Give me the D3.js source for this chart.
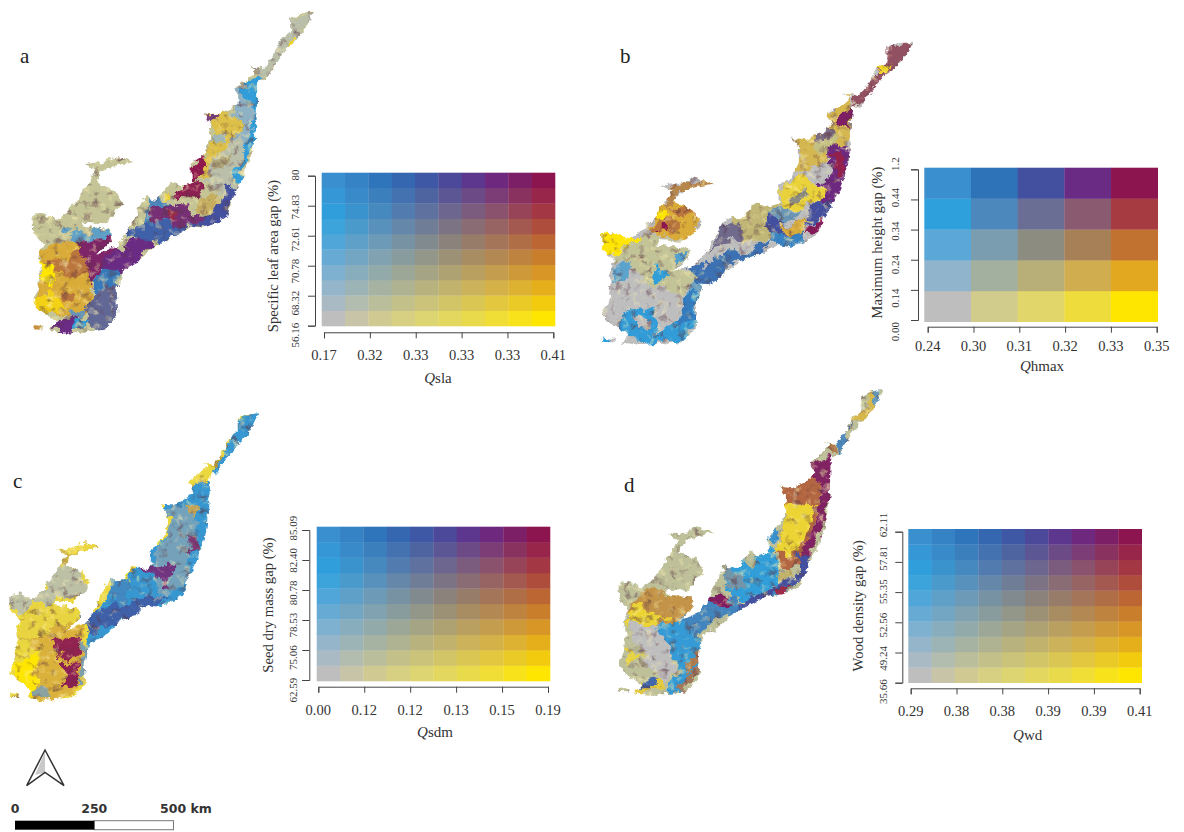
<!DOCTYPE html>
<html><head><meta charset="utf-8">
<script src="https://cdn.jsdelivr.net/npm/d3@7/dist/d3.min.js"></script>
<style>html,body{margin:0;padding:0;background:#fff}svg{display:block}text{font-family:"Liberation Serif",serif;fill:#333}</style>
</head><body><svg id="c" width="1184" height="832"></svg>
<script>
// bivariate palette, rows from gap class 0 (bottom) to 4 (top), columns = Q class
const palette = [
 ["#BEBEBE","#D2CC8C","#E0D66A","#EEDC3C","#FFE600"],
 ["#8FB4CC","#A3B0A0","#B8AE78","#D0AE50","#E2A820"],
 ["#5BA8D8","#7A9DB0","#8C8C80","#A88058","#C27230"],
 ["#2EA0DC","#4C88BC","#6A6E94","#8A5A70","#A63B42"],
 ["#3A8FCF","#2E72B8","#4350A0","#6A2B84","#8C1550"]];

// legend tick labels
const qLabelsA=["0.17","0.32","0.33","0.33","0.33","0.41"], gapLabelsA=["56.16","68.32","70.78","72.61","74.83","80"];
const qLabelsB=["0.24","0.30","0.31","0.32","0.33","0.35"], gapLabelsB=["0.00","0.14","0.24","0.34","0.44","1.2"];
const qLabelsC=["0.00","0.12","0.12","0.13","0.15","0.19"], gapLabelsC=["62.59","75.06","78.53","80.78","82.40","85.09"];
const qLabelsD=["0.29","0.38","0.38","0.39","0.39","0.41"], gapLabelsD=["35.66","49.24","52.56","55.35","57.81","62.11"];

// range outline (map units)
const rangeOutline=[940,35,925,70,905,100,885,125,865,140,845,165,825,195,800,240,775,240,772,270,770,350,765,420,750,480,730,530,700,590,680,650,650,670,600,685,570,680,520,710,460,740,410,790,370,810,350,870,355,940,310,990,250,995,200,998,150,990,170,965,120,930,97,905,115,860,120,800,115,770,130,730,100,700,97,645,130,640,170,660,200,640,240,590,265,545,290,510,255,492,310,485,350,468,400,485,340,500,300,520,290,545,345,570,370,610,335,650,310,670,250,665,250,680,330,690,335,720,290,765,350,740,380,700,400,660,420,620,435,590,470,600,495,570,515,545,540,560,575,550,575,490,610,465,630,420,630,370,610,340,650,345,700,320,720,300,705,265,740,240,770,210,750,200,790,205,825,160,840,120,870,100,870,55,900,40];
const islandOutline=[97,975,130,978,128,990,100,988];

// map zones: [Q class, gap class, polygon]
const zonesA=[
 [0.5,0.3,[940,30,880,130,830,180,790,245,750,200,870,50]],
 [3.5,0.2,[860,120,885,112,880,135,860,138]],
 [0.2,1.1,[700,260,745,240,750,340,745,420,720,470,690,430,720,380]],
 [0.1,3,[735,240,785,235,778,350,772,430,750,490,725,545,700,540,720,470,745,420,748,330,730,290]],
 [0.5,0.3,[640,450,720,410,738,470,700,550,650,590,605,560,620,510]],
 [3,0.6,[615,335,700,325,730,380,690,420,650,470,625,530,600,520,640,430,632,370]],
 [2,1.2,[650,480,690,470,690,500,655,510]],
 [0.4,0.8,[640,400,680,395,670,425,640,430]],
 [3,3.6,[610,340,660,345,650,365,620,370]],
 [4,3.9,[572,490,610,465,630,490,590,545,572,552]],
 [3.9,3.8,[535,558,600,548,592,602,540,588]],
 [2.6,1,[590,600,650,590,672,622,622,642,590,632]],
 [2,4,[660,560,712,552,700,592,682,650,650,672,600,686,570,682,580,660,630,640,662,600]],
 [1,3,[430,585,500,600,540,640,500,680,450,672]],
 [3.2,3.8,[450,630,520,620,600,640,622,660,550,682,490,682]],
 [3.2,0.3,[492,572,515,558,526,585,500,602]],
 [4,3.5,[495,640,525,645,520,665,498,660]],
 [1.6,3.9,[395,690,450,670,572,672,520,712,440,732,380,712]],
 [3,4,[285,765,350,748,420,715,442,730,412,792,360,822,300,812,268,790]],
 [0.5,2.3,[195,688,335,688,338,722,260,735,205,725]],
 [3.5,1,[115,740,230,728,292,800,272,870,292,942,220,952,160,932,95,912,118,860,128,810]],
 [3.7,2,[150,780,262,760,292,800,240,832,160,812]],
 [3.7,2,[185,870,240,880,230,905,190,895]],
 [4,0,[110,785,160,808,155,852,122,842]],
 [3.8,0.3,[95,905,150,860,192,920,120,935]],
 [3.5,3.9,[228,728,335,708,342,760,292,802,282,852,250,802]],
 [1,3.7,[288,810,352,808,352,872,320,884,288,860]],
 [2,3.2,[278,870,362,858,358,942,312,992,268,962,238,922]],
 [1,2.4,[200,920,250,930,240,955,200,950]],
 [3,4,[175,962,225,950,250,992,150,992]],
 [0,3.3,[222,960,282,960,262,992,215,992]],
 [3.6,1.6,[95,970,135,972,132,995,95,992]]
];
const zonesB=[
 [3.3,3,[945,25,895,38,855,60,828,130,768,190,755,245,785,225,842,172,885,122,925,72]],
 [3.4,0.2,[848,100,888,88,862,128,832,118]],
 [3,0.8,[680,245,750,185,755,300,700,292]],
 [3.6,4,[715,250,750,245,745,295,712,285]],
 [2.9,0.8,[575,312,700,292,755,300,755,352,692,382,652,402,642,432,590,422,600,352]],
 [2.4,2.8,[650,300,690,300,690,320,650,345]],
 [1.5,0.5,[660,325,705,320,700,370,670,375]],
 [3.1,4,[698,350,758,345,742,432,722,492,662,532,650,482,680,412]],
 [4,3.7,[700,380,735,370,730,430,700,430]],
 [3.1,0.2,[533,465,580,432,622,438,658,480,672,512,600,542,553,532]],
 [2,2,[575,490,620,480,620,510,585,515]],
 [1,2.4,[500,555,550,530,600,545,550,580,510,590]],
 [2,4,[640,530,702,498,682,552,642,582,630,560]],
 [3.8,4,[638,590,668,568,652,622,630,612]],
 [2,4,[503,560,642,578,622,612,592,652,498,642]],
 [3.4,1,[553,570,636,573,622,602,563,602]],
 [0.6,3.8,[503,610,620,600,612,652,560,652,500,645]],
 [2,0.8,[378,552,470,503,556,523,510,560,500,632,420,632,390,602]],
 [2.2,3,[378,560,442,622,385,642,318,662,350,622]],
 [1.2,3.7,[268,730,320,688,495,638,492,662,400,702,330,762,290,772]],
 [0.6,2,[265,740,300,770,292,812,240,760]],
 [3.5,1,[138,592,200,498,292,518,302,592,292,632,170,622]],
 [3.7,2,[150,590,205,555,240,580,215,610,160,615]],
 [3.7,2,[205,520,265,530,290,570,240,560]],
 [4,0,[170,555,205,530,215,550,185,575]],
 [4,4,[170,590,195,590,190,615,170,612]],
 [3.3,1.8,[178,463,352,448,312,487,222,482,190,522]],
 [4,0,[0,595,50,593,132,620,52,672,0,682]],
 [0.9,0.3,[45,670,130,623,272,640,282,690,222,722,292,742,262,802,150,762,60,702]],
 [0.3,2.2,[28,718,92,700,92,762,38,762]],
 [0.1,3,[150,710,212,730,190,762,160,752]],
 [0.3,2.4,[225,670,270,670,260,700,225,700]],
 [0.1,3.1,[58,880,90,830,160,830,172,902,232,872,272,800,302,800,292,892,222,948,120,932,60,932]],
 [0.8,3.8,[250,812,292,800,292,882,230,902]],
 [0,0,[105,860,140,855,135,890,110,890]],
 [0.1,3,[0,918,45,922,45,935,0,932]]
];
const zonesC=[
 [0.3,3.1,[780,20,720,38,678,130,638,212,578,258,508,298,488,420,448,432,368,530,338,520,328,572,278,632,258,682,272,802,432,652,602,602,632,402,642,302]],
 [0.7,1.9,[500,330,580,300,592,380,560,470,572,532,480,562,460,482,490,422]],
 [2.8,1.2,[555,298,606,298,590,332,565,326]],
 [3,3.8,[430,490,510,488,512,532,452,512]],
 [3.2,3.6,[568,388,592,388,586,442,568,432]],
 [1.6,3.9,[248,630,330,598,422,578,502,568,442,632,352,652,282,682,240,662]],
 [0.8,3.2,[335,520,400,570,350,600,335,570]],
 [2.9,0.6,[168,430,302,423,242,452,202,482,178,472]],
 [0.6,0.3,[28,563,110,573,190,478,262,518,272,572,212,592,172,572,60,622,38,602]],
 [3,0.2,[78,620,170,578,238,618,242,682,202,692,140,692,100,712,58,702]],
 [4,0,[25,792,110,758,122,822,100,884,58,832]],
 [3.4,0.9,[100,702,210,650,242,660,252,772,232,852,170,884,100,884,122,792]],
 [3.9,3.7,[148,698,252,698,242,757,170,762]],
 [3.9,3.8,[175,770,236,770,226,832,190,838]],
 [1,1.9,[250,708,278,750,272,812,236,832,242,770]],
 [1.2,1.7,[105,845,130,840,136,872,110,876]]
];
const zonesD=[
 [3,0.8,[850,12,800,35,778,70,755,105,785,110,822,72,838,40]],
 [0.8,2.3,[820,28,855,12,832,72,810,70]],
 [1,3,[695,192,762,108,745,172,712,215]],
 [3.4,2,[665,178,690,175,695,200,670,205]],
 [3.6,3.9,[632,240,692,208,698,342,672,432,642,492,622,542,600,502,642,422,662,332]],
 [3.7,2.3,[540,308,642,270,662,322,642,422,612,532,560,552,528,512,570,460]],
 [3.2,0.2,[560,360,652,350,622,430,612,492,572,512,530,512,552,442]],
 [2.3,0.9,[528,558,562,548,582,592,530,592]],
 [2,4,[600,502,632,520,622,572,582,612,555,632,530,622,580,590]],
 [0.4,3.3,[503,440,542,418,532,482,500,472]],
 [0.1,3,[373,545,470,508,522,508,532,560,522,602,462,642,388,642]],
 [1.2,2.2,[373,545,442,590,392,622]],
 [1.2,0.7,[430,518,472,510,460,542]],
 [0.9,3.3,[228,710,310,640,362,630,442,652,572,600,572,632,442,662,352,702,302,762]],
 [3.7,4,[328,640,372,628,382,662,335,667]],
 [2,4,[400,660,562,590,572,612,442,662]],
 [4,3.4,[518,624,572,618,566,636,520,634]],
 [3.3,1.5,[68,690,130,618,282,630,272,682,232,712,172,732,100,692]],
 [3.2,0.2,[90,682,130,650,200,702,100,722,68,752]],
 [0,0,[88,730,172,708,212,792,222,852,202,892,130,822,98,772]],
 [0.2,3,[170,718,232,713,302,762,292,862,252,922,215,922,232,842,202,772]],
 [3,0.2,[68,790,130,818,142,808,92,832]],
 [3.1,0.4,[100,902,192,880,212,922,120,928]],
 [1.5,3.8,[130,890,168,885,152,922,130,916]],
 [3.2,2,[250,820,302,790,297,842,250,882]],
 [3,2.2,[258,882,302,858,282,902,250,922]]
];

const panels=[
 {letter:"a",lx:20,ly:63,qName:"sla",gapName:"Specific leaf area gap (%)",q:qLabelsA,g:gapLabelsA,n:10,zones:zonesA,
  mo:[0,0],ox:[97/3,940/3],oy:[35/3,998/3],
  rect:[321.7,555,172.7,326],axX:315,tkY:[325.7,175.7],axY:332.3,tkX:[324,553.3],gl:[335,175],glX:295,xl:355,tY:378,tX:438,gnX:273,gnY:256},
 {letter:"b",lx:620,ly:63,qName:"hmax",gapName:"Maximum height gap (%)",q:qLabelsB,g:gapLabelsB,n:5,zones:zonesB,
  mo:[600,30],ox:[602,600+940/3],oy:[30+35/3,30+945/3],
  rect:[924.3,1157.7,167.7,321.7],axX:918,tkY:[320,169.3],axY:326.7,tkX:[927.7,1156.7],gl:[331.7,164],glX:895,xl:345.7,tY:366,tX:1042,gnX:877,gnY:242.6},
 {letter:"c",lx:13,ly:488,qName:"sdm",gapName:"Seed dry mass gap (%)",q:qLabelsC,g:gapLabelsC,n:10,zones:zonesC,
  mo:[0,405],ox:[10,775/3],oy:[405+25/3,405+885/3],
  rect:[316.7,550,526.7,681],axX:309.3,tkY:[680,530],axY:686.7,tkX:[318.3,548],gl:[690,528],glX:293,xl:710,tY:731.7,tX:435,gnX:267.7,gnY:605},
 {letter:"d",lx:624,ly:492,qName:"wd",gapName:"Wood density gap (%)",q:qLabelsD,g:gapLabelsD,n:10,zones:zonesD,
  mo:[600,385],ox:[600+55/3,600+850/3],oy:[385+15/3,385+930/3],
  rect:[908.3,1141.7,529,682.7],axX:902.3,tkY:[682.7,531.7],axY:688.3,tkX:[910.7,1139.7],gl:[691.7,525],glX:883,xl:711,tY:735,tX:1027.7,gnX:858,gnY:605.7}
];

function bivar(q,g){
  const q0=Math.min(3,Math.floor(q)),g0=Math.min(3,Math.floor(g)),tq=q-q0,tg=g-g0;
  const lo=d3.interpolateRgb(palette[g0][q0],palette[g0][q0+1])(tq);
  const hi=d3.interpolateRgb(palette[g0+1][q0],palette[g0+1][q0+1])(tq);
  return d3.interpolateRgb(lo,hi)(tg);
}
const pairs=a=>d3.range(0,a.length,2).map(i=>[a[i],a[i+1]]);

const svg=d3.select("#c");
const defs=svg.append("defs");
function fullFilter(id){return defs.append("filter").attr("id",id).attr("filterUnits","userSpaceOnUse")
  .attr("x",0).attr("y",0).attr("width",1184).attr("height",832).attr("color-interpolation-filters","sRGB");}
// fine edge roughness for the range outline
const rough=fullFilter("rough");
rough.append("feTurbulence").attr("type","fractalNoise").attr("baseFrequency",0.16).attr("numOctaves",3).attr("seed",4).attr("result","n");
rough.append("feDisplacementMap").attr("in","SourceGraphic").attr("in2","n").attr("scale",7).attr("xChannelSelector","R").attr("yChannelSelector","G").attr("result","d");
rough.append("feGaussianBlur").attr("in","d").attr("stdDeviation",0.6);
// interleaving of zones plus a faint dark and light mottling
const mott=fullFilter("mottle");
mott.append("feTurbulence").attr("type","fractalNoise").attr("baseFrequency",0.05).attr("numOctaves",3).attr("seed",11).attr("result","n");
mott.append("feDisplacementMap").attr("in","SourceGraphic").attr("in2","n").attr("scale",22).attr("xChannelSelector","R").attr("yChannelSelector","G").attr("result","d");
mott.append("feTurbulence").attr("type","fractalNoise").attr("baseFrequency",0.13).attr("numOctaves",2).attr("seed",23).attr("result","m");
mott.append("feColorMatrix").attr("in","m").attr("type","matrix").attr("values","0 0 0 0 0.35  0 0 0 0 0.2  0 0 0 0 0.25  2 0 0 0 -1.12").attr("result","dark");
mott.append("feColorMatrix").attr("in","m").attr("type","matrix").attr("values","0 0 0 0 1  0 0 0 0 0.95  0 0 0 0 0.7  0 2 0 0 -1.14").attr("result","light");
const mm=mott.append("feMerge");
["d","dark","light"].forEach(k=>mm.append("feMergeNode").attr("in",k));
const soft=defs.append("filter").attr("id","soft").attr("x","-2%").attr("y","-2%").attr("width","104%").attr("height","104%").attr("color-interpolation-filters","sRGB");
soft.append("feGaussianBlur").attr("stdDeviation",0.6);

panels.forEach((p,pi)=>{
  // map
  const ox=d3.scaleLinear([97,940],p.ox), oy=d3.scaleLinear([35,998],p.oy);
  const zx=d3.scaleLinear([0,1000],[p.mo[0],p.mo[0]+1000/3]), zy=d3.scaleLinear([0,1000],[p.mo[1],p.mo[1]+1000/3]);
  const outline=d3.line().x(d=>ox(d[0])).y(d=>oy(d[1]));
  const zone=d3.line().x(d=>zx(d[0])).y(d=>zy(d[1]));
  const clipD=outline(pairs(rangeOutline))+"Z"+outline(pairs(islandOutline))+"Z";
  defs.append("clipPath").attr("id","clip"+pi).append("path").attr("d",clipD);
  const base={a:[0.9,0.25],b:[0,0],c:[3,0.1],d:[0.9,0.4]}[p.letter];
  const mg=svg.append("g").attr("filter","url(#rough)").append("g").attr("clip-path",`url(#clip${pi})`).append("g").attr("filter","url(#mottle)");
  mg.append("rect").attr("x",p.mo[0]-30).attr("y",p.mo[1]-30).attr("width",400).attr("height",395).attr("fill",bivar(base[0],base[1]));
  mg.selectAll("path").data(p.zones).join("path").attr("d",d=>zone(pairs(d[2]))+"Z").attr("fill",d=>bivar(d[0],d[1]));

  // panel letter
  svg.append("text").attr("x",p.lx).attr("y",p.ly).attr("font-size",21).style("fill","#222").text(p.letter);

  // legend cells
  const idx=d3.range(p.n);
  const cx=d3.scaleBand(idx,[p.rect[0],p.rect[1]]), cy=d3.scaleBand(idx,[p.rect[3],p.rect[2]]);
  const tone=d3.scaleLinear([0,p.n-1],[0,4]);
  const cells=idx.flatMap(g=>idx.map(q=>[q,g]));
  svg.append("g").attr("filter","url(#soft)").selectAll("rect").data(cells).join("rect")
    .attr("x",d=>cx(d[0])).attr("y",d=>cy(d[1])).attr("width",cx.bandwidth()+0.3).attr("height",cy.bandwidth()+0.3)
    .attr("fill",d=>bivar(tone(d[0]),tone(d[1])));

  // axes
  const six=d3.range(6);
  const xS=d3.scalePoint(six,p.tkX), yS=d3.scalePoint(six,p.tkY), yL=d3.scalePoint(six,p.gl);
  const ax=svg.append("g").attr("transform",`translate(0,${p.axY})`)
    .call(d3.axisBottom(xS).tickSizeOuter(0).tickSize(6).tickFormat(""));
  const ay=svg.append("g").attr("transform",`translate(${p.axX},0)`)
    .call(d3.axisLeft(yS).tickSizeOuter(0).tickSize(7).tickFormat(""));
  [ax,ay].forEach(s=>s.selectAll("path,line").attr("stroke","#444").attr("stroke-width",1));
  svg.append("g").selectAll("text").data(six).join("text").attr("x",i=>xS(i)).attr("y",p.xl+5)
    .attr("text-anchor","middle").attr("font-size",14.5).text(i=>p.q[i]);
  svg.append("g").selectAll("text").data(six).join("text")
    .attr("transform",i=>`translate(${p.glX+4},${yL(i)}) rotate(-90)`)
    .attr("text-anchor","middle").attr("font-size",11).text(i=>p.g[i]);
  svg.append("text").attr("transform",`translate(${p.gnX+5},${p.gnY}) rotate(-90)`)
    .attr("text-anchor","middle").attr("font-size",14.7).text(p.gapName);
  const t=svg.append("text").attr("x",p.tX).attr("y",p.tY+5).attr("text-anchor","middle").attr("font-size",15);
  t.append("tspan").attr("font-style","italic").text("Q");
  t.append("tspan").text(p.qName);
});

// north arrow
const arrowLeft=[[45,752],[35,775],[45,772.3]], arrowOut=[[45,750],[26.7,785.7],[45,772.3],[64,785.7]];
const ln=d3.line();
svg.append("path").attr("d",ln(arrowLeft)+"Z").attr("fill","#c8c8c8");
svg.append("path").attr("d",ln(arrowOut)+"Z").attr("fill","none").attr("stroke","#333").attr("stroke-width",1.5).attr("stroke-linejoin","miter");

// scale bar
const scaleStops=[0,250,500];
const sx=d3.scaleLinear([0,500],[15,173.5]);
svg.append("rect").attr("x",sx(250)).attr("y",820.7).attr("width",sx(500)-sx(250)).attr("height",9).attr("fill","#fff").attr("stroke","#777").attr("stroke-width",1);
svg.append("rect").attr("x",sx(0)).attr("y",820.7).attr("width",sx(250)-sx(0)).attr("height",9).attr("fill","#000");
svg.append("g").selectAll("text").data(scaleStops).join("text")
  .attr("x",d=>d==500?160:sx(d)).attr("y",812.5).attr("text-anchor",d=>d==500?"start":"middle")
  .style("font-family","'DejaVu Sans',sans-serif").style("font-weight","bold").attr("font-size",12.5)
  .text(d=>d==500?"500 km":d);
</script></body></html>
